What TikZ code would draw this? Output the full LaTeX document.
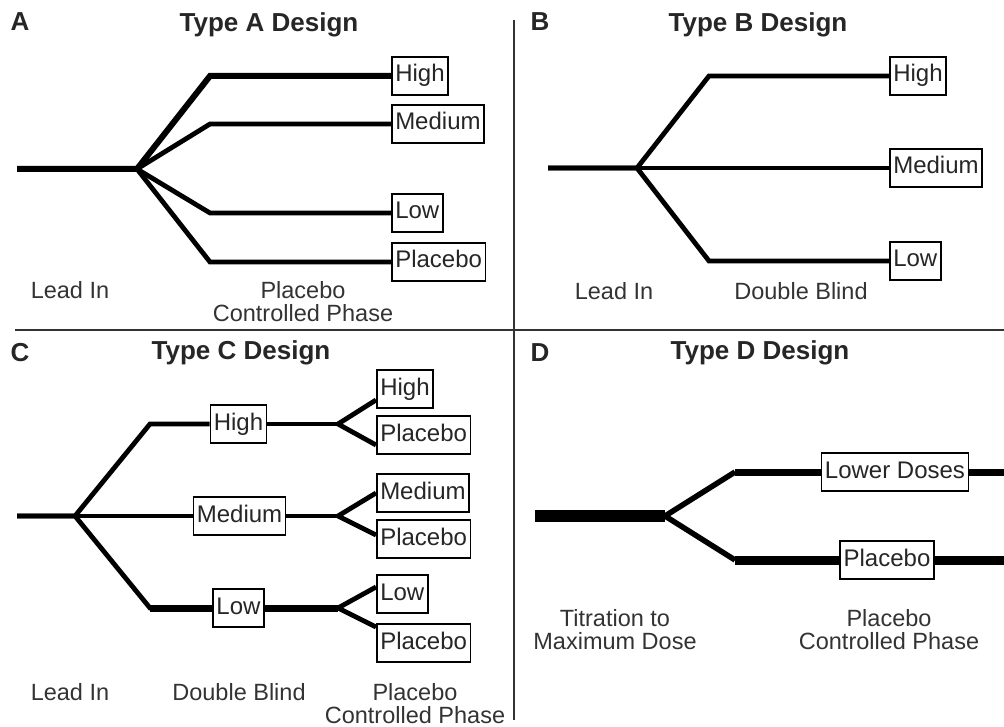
\documentclass[tikz,border=0pt]{standalone}
\usepackage{fontspec}
\setmainfont{Liberation Sans}
\usepackage{tikz}

\begin{document}
\begin{tikzpicture}[x=1pt,y=-1pt,
    dose/.style={draw,line width=1.5pt,fill=white,inner xsep=3.5pt,inner ysep=0pt,
      minimum height=38pt,text height=17pt,text depth=5pt,text=black!85,
      font=\fontsize{24}{26}\selectfont},
    arm/.style={line width=4.8pt,line join=miter},
    divider/.style={line width=1.3pt,black!80},
    title/.style={text=black!85,font=\bfseries\fontsize{26}{28}\selectfont},
    phase/.style={align=center,text=black!80,font=\fontsize{23.5}{23}\selectfont}]
  \useasboundingbox (0,0) rectangle (1004,727);
  % dividers
  \coordinate (hdivL) at (15,330);
  \coordinate (hdivR) at (1004,330);
  \coordinate (vdivT) at (514,20);
  \coordinate (vdivB) at (514,720);
  \draw[divider] (hdivL) -- (hdivR);
  \draw[divider] (vdivT) -- (vdivB);

  % Type A
  \node[title] (labA) at (20,22) {A};
  \node[title] (titleA) at (269,25) {Type A Design};
  \coordinate (startA) at (17,169);
  \coordinate (forkA) at (137,169);
  \coordinate (bendA) at (210,169);
  \node[dose,anchor=west] (highA) at (391,76) {High};
  \node[dose,anchor=west] (medA) at (391,124) {Medium};
  \node[dose,anchor=west] (lowA) at (391,213) {Low};
  \node[dose,anchor=west] (plaA) at (391,262) {Placebo};
  \draw[arm,line width=6pt] (startA) -- (forkA) -- (bendA |- highA) -- (highA);
  \draw[arm] (startA) -- (forkA) -- (bendA |- medA) -- (medA);
  \draw[arm] (startA) -- (forkA) -- (bendA |- lowA) -- (lowA);
  \draw[arm] (startA) -- (forkA) -- (bendA |- plaA) -- (plaA);
  \node[phase] (leadA) at (70,290) {Lead In};
  \node[phase] (phaseA) at (303,302) {Placebo\\Controlled Phase};

  % Type B
  \node[title] (labB) at (540,22) {B};
  \node[title] (titleB) at (758,25) {Type B Design};
  \coordinate (startB) at (548,168);
  \coordinate (forkB) at (637,168);
  \coordinate (bendB) at (709,168);
  \node[dose,anchor=west] (highB) at (889,76) {High};
  \node[dose,anchor=west] (medB) at (889,168) {Medium};
  \node[dose,anchor=west] (lowB) at (889,261) {Low};
  \draw[arm] (startB) -- (forkB) -- (bendB |- highB) -- (highB);
  \draw[arm] (startB) -- (medB);
  \draw[arm] (startB) -- (forkB) -- (bendB |- lowB) -- (lowB);
  \node[phase] (leadB) at (614,291) {Lead In};
  \node[phase] (blindB) at (801,291) {Double Blind};

  % Type C
  \node[title] (labC) at (20,353) {C};
  \node[title] (titleC) at (241,353) {Type C Design};
  \coordinate (startC) at (17,516);
  \coordinate (forkC) at (75,516);
  \coordinate (bendC) at (150,516);
  \node[dose] (highC) at (238.5,424) {High};
  \node[dose] (medC) at (239.5,516) {Medium};
  \node[dose] (lowC) at (238.5,608) {Low};
  \draw[arm] (startC) -- (forkC) -- (bendC |- highC) -- (highC);
  \draw[arm] (startC) -- (medC);
  \draw[arm] (startC) -- (forkC) -- (bendC |- lowC) -- (lowC);
  \coordinate (subHighC) at (338,424);
  \coordinate (subMedC) at (338,516);
  \coordinate (subLowC) at (338,608);
  \node[dose,anchor=west] (hiHiC) at (376,389) {High};
  \node[dose,anchor=west] (hiPlaC) at (376,435) {Placebo};
  \node[dose,anchor=west] (meMeC) at (376,493) {Medium};
  \node[dose,anchor=west] (mePlaC) at (376,539) {Placebo};
  \node[dose,anchor=west] (loLoC) at (376,594) {Low};
  \node[dose,anchor=west] (loPlaC) at (376,643) {Placebo};
  \draw[arm] (highC) -- (subHighC);
  \draw[arm] ([yshift=-11pt]hiHiC.west) -- (subHighC) -- ([yshift=-10pt]hiPlaC.west);
  \draw[arm] (medC) -- (subMedC);
  \draw[arm] (meMeC.west) -- (subMedC) -- ([yshift=4pt]mePlaC.west);
  \draw[arm,line width=7pt] (lowC) -- (subLowC);
  \draw[arm,line width=7pt] (bendC |- lowC) -- (lowC);
  \draw[arm] ([yshift=7pt]loLoC.west) -- (subLowC) -- ([yshift=16pt]loPlaC.west);
  \node[phase] (leadC) at (70,692) {Lead In};
  \node[phase] (blindC) at (239,692) {Double Blind};
  \node[phase] (phaseC) at (415,704) {Placebo\\Controlled Phase};

  % Type D
  \node[title] (labD) at (540,353) {D};
  \node[title] (titleD) at (760,353) {Type D Design};
  \coordinate (startD) at (535,516);
  \coordinate (forkD) at (665,516);
  \coordinate (bendD) at (735,516);
  \node[dose] (lowD) at (895,472) {Lower Doses};
  \node[dose] (plaD) at (887,560) {Placebo};
  \coordinate (endLowD) at (1004,472);
  \coordinate (endPlaD) at (1004,560);
  \draw[arm,line width=5.5pt] (forkD) -- (bendD |- lowD);
  \draw[arm,line width=5.5pt] (forkD) -- (bendD |- plaD);
  \draw[arm,line width=7pt] (bendD |- lowD) -- (lowD) (lowD) -- (endLowD);
  \draw[arm,line width=9pt] (bendD |- plaD) -- (plaD) (plaD) -- (endPlaD);
  \draw[line width=12pt] (startD) -- (forkD);
  \node[phase] (leadD) at (615,630) {Titration to\\Maximum Dose};
  \node[phase] (phaseD) at (889,630) {Placebo\\Controlled Phase};
\end{tikzpicture}
\end{document}
